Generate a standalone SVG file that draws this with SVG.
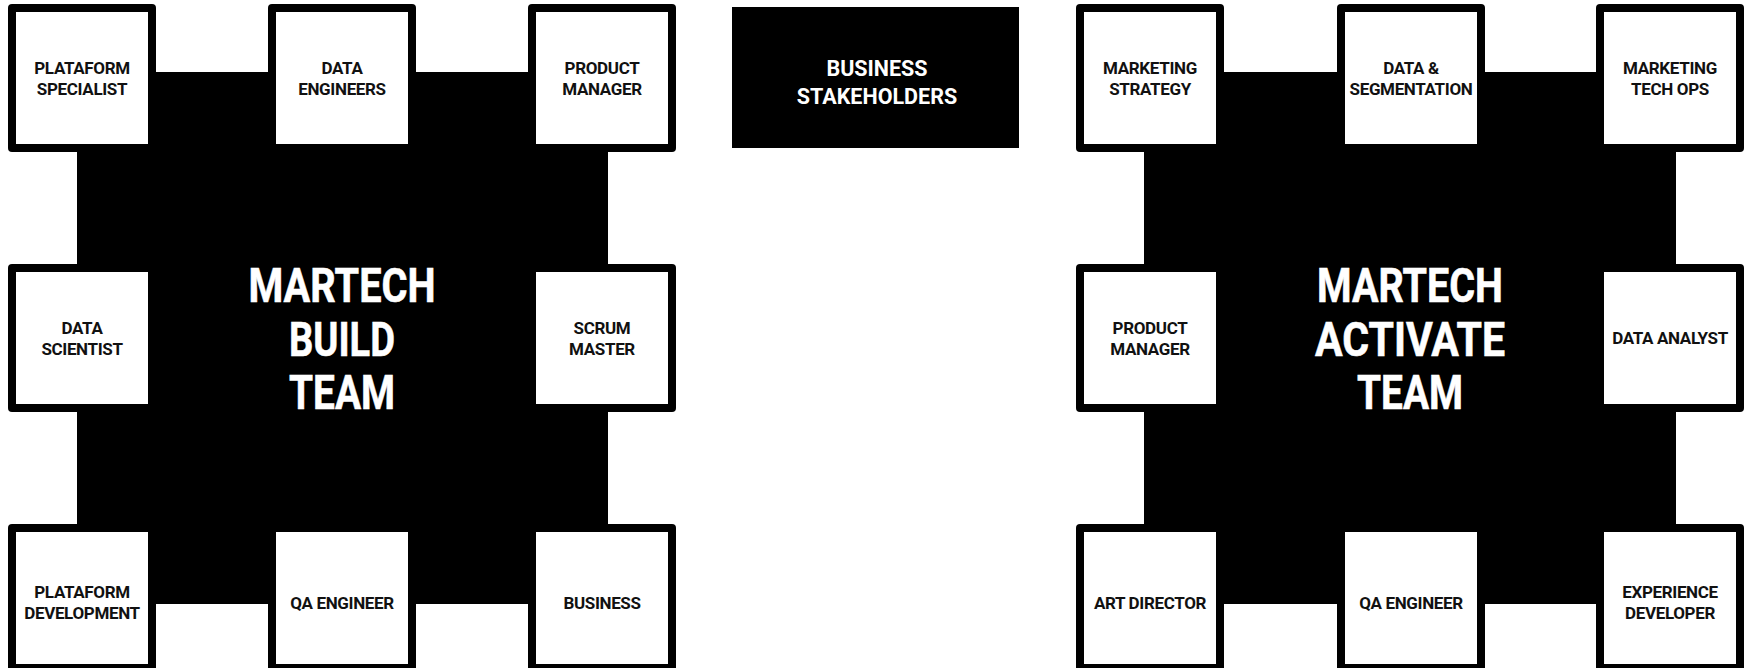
<svg xmlns="http://www.w3.org/2000/svg" width="1751" height="668" viewBox="0 0 1751 668">
<style>
.bg{fill:#000}
.frame{fill:#000}
.inner{fill:#fff}
.lbl{font-family:Roboto,"Liberation Sans",sans-serif;font-weight:700;font-size:17px;letter-spacing:-0.35px;fill:#111;text-anchor:middle}
.title{font-family:Roboto,"Liberation Sans",sans-serif;font-weight:700;font-size:48px;fill:#fff;text-anchor:middle;stroke:#fff;stroke-width:0.6px}
.stk{font-family:Roboto,"Liberation Sans",sans-serif;font-weight:700;font-size:21.5px;fill:#fff;text-anchor:middle}
</style>
<rect width="1751" height="668" fill="#fff"/>
<g id="connectors"></g>
<g id="build-team">
<rect class="bg" x="77" y="72" width="531" height="532"/>
<text class="title" x="342" y="302" textLength="187" lengthAdjust="spacingAndGlyphs">MARTECH</text>
<text class="title" x="342" y="355.5" textLength="106" lengthAdjust="spacingAndGlyphs">BUILD</text>
<text class="title" x="342" y="409" textLength="106" lengthAdjust="spacingAndGlyphs">TEAM</text>
</g>
<g id="activate-team">
<rect class="bg" x="1144" y="72" width="532" height="532"/>
<text class="title" x="1410" y="302" textLength="186" lengthAdjust="spacingAndGlyphs">MARTECH</text>
<text class="title" x="1410" y="355.5" textLength="190" lengthAdjust="spacingAndGlyphs">ACTIVATE</text>
<text class="title" x="1410" y="409" textLength="106" lengthAdjust="spacingAndGlyphs">TEAM</text>
</g>
<g id="business-stakeholders">
<rect x="732" y="7" width="287" height="141" fill="#000"/>
<text class="stk" x="877" y="76">BUSINESS</text>
<text class="stk" x="877" y="104">STAKEHOLDERS</text>
</g>
<g id="plataform-specialist">
<rect class="frame" x="8" y="4" width="148" height="148" rx="4"/>
<rect class="inner" x="16" y="12" width="132" height="132"/>
<text class="lbl" x="82" y="74">PLATAFORM</text>
<text class="lbl" x="82" y="95">SPECIALIST</text>
</g>
<g id="data-engineers">
<rect class="frame" x="268" y="4" width="148" height="148" rx="4"/>
<rect class="inner" x="276" y="12" width="132" height="132"/>
<text class="lbl" x="342" y="74">DATA</text>
<text class="lbl" x="342" y="95">ENGINEERS</text>
</g>
<g id="product-manager-build">
<rect class="frame" x="528" y="4" width="148" height="148" rx="4"/>
<rect class="inner" x="536" y="12" width="132" height="132"/>
<text class="lbl" x="602" y="74">PRODUCT</text>
<text class="lbl" x="602" y="95">MANAGER</text>
</g>
<g id="data-scientist">
<rect class="frame" x="8" y="264" width="148" height="148" rx="4"/>
<rect class="inner" x="16" y="272" width="132" height="132"/>
<text class="lbl" x="82" y="334">DATA</text>
<text class="lbl" x="82" y="355">SCIENTIST</text>
</g>
<g id="scrum-master">
<rect class="frame" x="528" y="264" width="148" height="148" rx="4"/>
<rect class="inner" x="536" y="272" width="132" height="132"/>
<text class="lbl" x="602" y="334">SCRUM</text>
<text class="lbl" x="602" y="355">MASTER</text>
</g>
<g id="plataform-development">
<rect class="frame" x="8" y="524" width="148" height="152" rx="4"/>
<rect class="inner" x="16" y="532" width="132" height="132"/>
<text class="lbl" x="82" y="598">PLATAFORM</text>
<text class="lbl" x="82" y="619">DEVELOPMENT</text>
</g>
<g id="qa-engineer-build">
<rect class="frame" x="268" y="524" width="148" height="152" rx="4"/>
<rect class="inner" x="276" y="532" width="132" height="132"/>
<text class="lbl" x="342" y="609">QA ENGINEER</text>
</g>
<g id="business">
<rect class="frame" x="528" y="524" width="148" height="152" rx="4"/>
<rect class="inner" x="536" y="532" width="132" height="132"/>
<text class="lbl" x="602" y="609">BUSINESS</text>
</g>
<g id="marketing-strategy">
<rect class="frame" x="1076" y="4" width="148" height="148" rx="4"/>
<rect class="inner" x="1084" y="12" width="132" height="132"/>
<text class="lbl" x="1150" y="74">MARKETING</text>
<text class="lbl" x="1150" y="95">STRATEGY</text>
</g>
<g id="data-segmentation">
<rect class="frame" x="1337" y="4" width="148" height="148" rx="4"/>
<rect class="inner" x="1345" y="12" width="132" height="132"/>
<text class="lbl" x="1411" y="74">DATA &amp;</text>
<text class="lbl" x="1411" y="95">SEGMENTATION</text>
</g>
<g id="marketing-tech-ops">
<rect class="frame" x="1596" y="4" width="148" height="148" rx="4"/>
<rect class="inner" x="1604" y="12" width="132" height="132"/>
<text class="lbl" x="1670" y="74">MARKETING</text>
<text class="lbl" x="1670" y="95">TECH OPS</text>
</g>
<g id="product-manager-activate">
<rect class="frame" x="1076" y="264" width="148" height="148" rx="4"/>
<rect class="inner" x="1084" y="272" width="132" height="132"/>
<text class="lbl" x="1150" y="334">PRODUCT</text>
<text class="lbl" x="1150" y="355">MANAGER</text>
</g>
<g id="data-analyst">
<rect class="frame" x="1596" y="264" width="148" height="148" rx="4"/>
<rect class="inner" x="1604" y="272" width="132" height="132"/>
<text class="lbl" x="1670" y="344">DATA ANALYST</text>
</g>
<g id="art-director">
<rect class="frame" x="1076" y="524" width="148" height="152" rx="4"/>
<rect class="inner" x="1084" y="532" width="132" height="132"/>
<text class="lbl" x="1150" y="609">ART DIRECTOR</text>
</g>
<g id="qa-engineer-activate">
<rect class="frame" x="1337" y="524" width="148" height="152" rx="4"/>
<rect class="inner" x="1345" y="532" width="132" height="132"/>
<text class="lbl" x="1411" y="609">QA ENGINEER</text>
</g>
<g id="experience-developer">
<rect class="frame" x="1596" y="524" width="148" height="152" rx="4"/>
<rect class="inner" x="1604" y="532" width="132" height="132"/>
<text class="lbl" x="1670" y="598">EXPERIENCE</text>
<text class="lbl" x="1670" y="619">DEVELOPER</text>
</g>
</svg>
